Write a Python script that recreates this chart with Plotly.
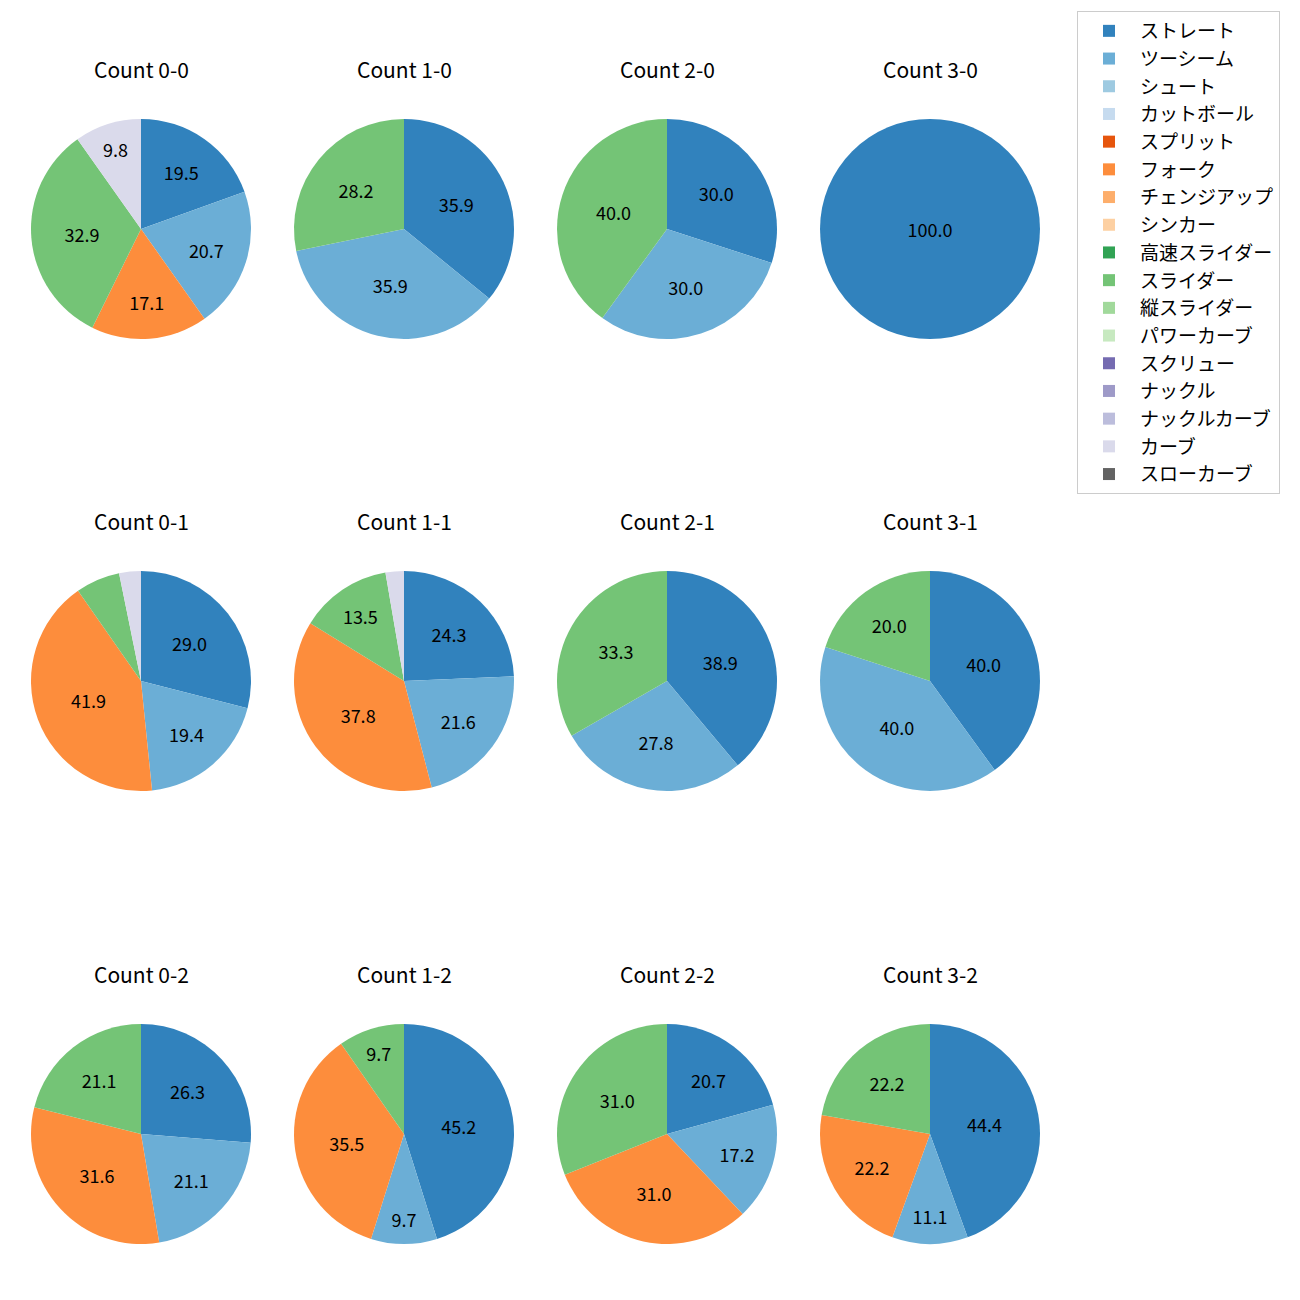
import plotly.graph_objects as go

pitch_types = ["ストレート", "ツーシーム", "シュート", "カットボール", "スプリット", "フォーク",
               "チェンジアップ", "シンカー", "高速スライダー", "スライダー", "縦スライダー",
               "パワーカーブ", "スクリュー", "ナックル", "ナックルカーブ", "カーブ", "スローカーブ"]
colors = ["#3182bd", "#6baed6", "#9ecae1", "#c6dbef", "#e6550d", "#fd8d3c", "#fdae6b", "#fdd0a2",
          "#31a354", "#74c476", "#a1d99b", "#c7e9c0", "#756bb1", "#9e9ac8", "#bcbddc", "#dadaeb",
          "#636363"]

counts = ["0-0", "1-0", "2-0", "3-0",
          "0-1", "1-1", "2-1", "3-1",
          "0-2", "1-2", "2-2", "3-2"]

# percentages per count: {pitch: pct}
share = {
    "0-0": {"ストレート": 19.5, "ツーシーム": 20.7, "フォーク": 17.1, "スライダー": 32.9, "カーブ": 9.8},
    "1-0": {"ストレート": 35.9, "ツーシーム": 35.9, "スライダー": 28.2},
    "2-0": {"ストレート": 30.0, "ツーシーム": 30.0, "スライダー": 40.0},
    "3-0": {"ストレート": 100.0},
    "0-1": {"ストレート": 29.0, "ツーシーム": 19.4, "フォーク": 41.9, "スライダー": 6.5, "カーブ": 3.2},
    "1-1": {"ストレート": 24.3, "ツーシーム": 21.6, "フォーク": 37.8, "スライダー": 13.5, "カーブ": 2.7},
    "2-1": {"ストレート": 38.9, "ツーシーム": 27.8, "スライダー": 33.3},
    "3-1": {"ストレート": 40.0, "ツーシーム": 40.0, "スライダー": 20.0},
    "0-2": {"ストレート": 26.3, "ツーシーム": 21.1, "フォーク": 31.6, "スライダー": 21.1},
    "1-2": {"ストレート": 45.2, "ツーシーム": 9.7, "フォーク": 35.5, "スライダー": 9.7},
    "2-2": {"ストレート": 20.7, "ツーシーム": 17.2, "フォーク": 31.0, "スライダー": 31.0},
    "3-2": {"ストレート": 44.4, "ツーシーム": 11.1, "フォーク": 22.2, "スライダー": 22.2},
}

W = H = 1300
OFF = 8  # page body margin
col_cx = [141 - OFF, 404 - OFF, 667 - OFF, 930 - OFF]
row_cy = [229 - OFF, 681 - OFF, 1134 - OFF]
R = 110
FONT = "Noto Sans CJK JP"

fig = go.Figure()
annotations = []
for i, c in enumerate(counts):
    r, k = divmod(i, 4)
    cx, cy = col_cx[k], row_cy[r]
    vals = [share[c].get(p, 0) for p in pitch_types]
    texts = [f"{v:.1f}" if v >= 8 else "" for v in vals]
    fig.add_trace(go.Pie(
        labels=pitch_types, values=vals, text=texts, textinfo="text",
        textposition="inside", insidetextorientation="horizontal",
        textfont=dict(size=18, color="black", family=FONT),
        marker=dict(colors=colors, line=dict(width=0)),
        sort=False, direction="clockwise", rotation=0,
        domain=dict(x=[(cx - R) / W, (cx + R) / W], y=[1 - (cy + R) / H, 1 - (cy - R) / H]),
        showlegend=(i == 0), hoverinfo="label+percent",
    ))
    annotations.append(dict(text=f"Count {c}", x=cx / W, y=1 - (cy - 160) / H,
                            xref="paper", yref="paper", showarrow=False,
                            font=dict(size=21, color="black", family=FONT),
                            xanchor="center", yanchor="middle"))

fig.update_layout(
    width=W, height=H, margin=dict(l=0, r=0, t=0, b=0),
    paper_bgcolor="white", plot_bgcolor="white",
    annotations=annotations,
    uniformtext=dict(minsize=18, mode="show"),
    font=dict(family=FONT),
    legend=dict(x=(1077 - OFF) / W, y=1 - (11 - OFF) / H, xanchor="left", yanchor="top",
                bgcolor="white", bordercolor="#cccccc", borderwidth=1, itemwidth=52,
                font=dict(size=19, color="black", family=FONT), traceorder="normal"),
)
fig.write_html("out.html")
